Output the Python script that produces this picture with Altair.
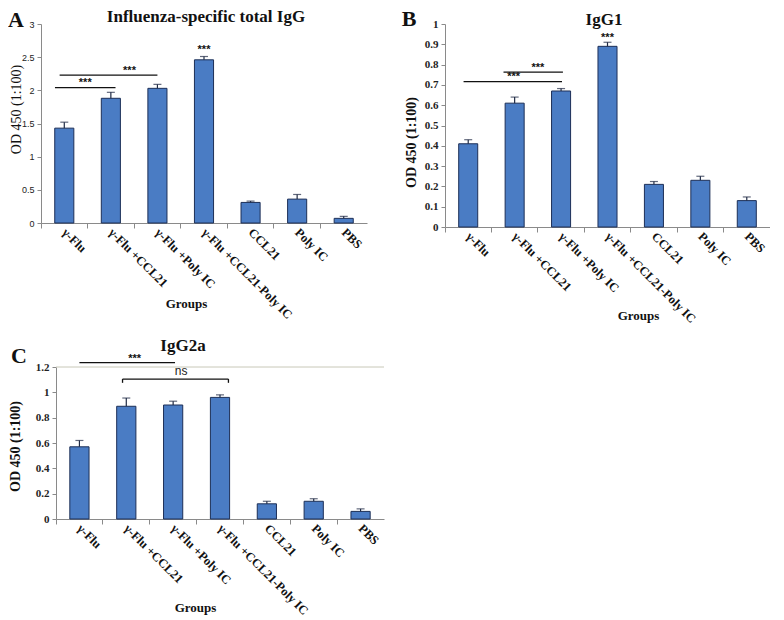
import altair as alt
import pandas as pd

groups = ["γ-Flu", "γ-Flu +CCL21", "γ-Flu +Poly IC", "γ-Flu +CCL21-Poly IC",
          "CCL21", "Poly IC", "PBS"]

igg_total = [1.43, 1.88, 2.03, 2.46, 0.31, 0.36, 0.07]
igg_total_err = [0.09, 0.09, 0.06, 0.05, 0.02, 0.07, 0.03]
igg1 = [0.41, 0.61, 0.67, 0.89, 0.21, 0.23, 0.13]
igg1_err = [0.02, 0.03, 0.012, 0.02, 0.014, 0.02, 0.018]
igg2a = [0.57, 0.89, 0.90, 0.96, 0.12, 0.14, 0.06]
igg2a_err = [0.05, 0.065, 0.03, 0.02, 0.02, 0.02, 0.02]

# significance segments: x start, x end (group index units), y start, y end
sig_a = [(-0.2, 1.1, 2.04, 2.04), (-0.1, 2.0, 2.23, 2.23)]
stars_a = [(0.45, 2.06, "***"), (1.4, 2.25, "***"), (3.0, 2.57, "***")]
sig_b = [(-0.1, 2.02, 0.716, 0.716), (0.76, 2.04, 0.763, 0.763)]
stars_b = [(0.98, 0.722, "***"), (1.5, 0.770, "***"), (3.0, 0.918, "***")]
sig_c = [(0.0, 2.04, 1.235, 1.235), (0.92, 3.18, 1.105, 1.105),
         (0.92, 0.92, 1.105, 1.075), (3.18, 3.18, 1.105, 1.075)]
stars_c = [(1.18, 1.24, "***")]
ns_c = [(2.17, 1.137, "ns")]

BAR_FILL = "#4a7cc4"
BAR_STROKE = "#1d2f57"
SERIF = "Liberation Serif"
SANS = "Liberation Sans"


def label_mark(text, x, y, size):
    return alt.Chart(pd.DataFrame({"t": [text]})).mark_text(
        font=SERIF, fontSize=size, fontWeight="bold", color="#111111",
        align="center", baseline="alphabetic").encode(
        x=alt.value(x), y=alt.value(y), text="t:N")


def panel(values, errs, segs, stars, ymax, ystep, w, h, title, title_x,
          title_y, letter, letter_x, letter_y, ytitle_x, ytitle_y, ytitle_bold,
          ylabel_font, ylabel_size, ylabel_bold, xtitle_x, xtitle_y,
          x_off=0, ns=None, topline=False):
    df = pd.DataFrame({"group": groups, "value": values, "err": errs})
    df["top"] = df["value"] + df["err"]
    ticks = [round(i * ystep, 3) for i in range(int(round(ymax / ystep)) + 1)]
    yscale = alt.Scale(domain=[0, ymax], nice=False, zero=True)
    yaxis = alt.Axis(values=ticks, format="~g", grid=False, offset=-x_off,
                     labelFont=ylabel_font, labelFontSize=ylabel_size,
                     labelFontWeight="bold" if ylabel_bold else "normal",
                     labelColor="#222222", labelPadding=3,
                     tickSize=4, tickColor="#8a8a8a", domainColor="#8a8a8a",
                     title="OD 450 (1:100)", titleFont=SERIF, titleFontSize=14,
                     titleFontWeight="bold" if ytitle_bold else "normal",
                     titleColor="#111111", titleAngle=-90,
                     titleX=ytitle_x, titleY=ytitle_y,
                     titleAlign="center", titleBaseline="middle")
    full_w = w + x_off
    xscale = alt.Scale(domain=groups, paddingInner=0, paddingOuter=0,
                       range=[x_off, full_w])
    xaxis = alt.Axis(bandPosition=0, labelOffset=0, labelAngle=45,
                     labelAlign="left", labelBaseline="middle", labelPadding=2,
                     labelFont=SERIF, labelFontSize=12.5, labelFontWeight="bold",
                     labelColor="#111111", labelLimit=300, labelOverlap=False,
                     tickSize=5, tickColor="#8a8a8a", domainColor="#8a8a8a",
                     title="Groups", titleFont=SERIF, titleFontSize=13,
                     titleFontWeight="bold", titleColor="#111111",
                     titleX=xtitle_x, titleY=xtitle_y,
                     titleAlign="center", titleBaseline="middle")
    base = alt.Chart(df)
    bars = base.mark_bar(fill=BAR_FILL, stroke=BAR_STROKE, strokeWidth=1,
                         width=alt.RelativeBandSize(0.41)).encode(
        x=alt.X("group:N", sort=groups, scale=xscale, axis=xaxis),
        y=alt.Y("value:Q", scale=yscale, axis=yaxis),
    )
    errbar = base.mark_rule(color="#1f2a44", strokeWidth=1.2).encode(
        x=alt.X("group:N", sort=groups, scale=xscale, axis=xaxis),
        y=alt.Y("value:Q", scale=yscale, axis=yaxis), y2="top:Q",
    )
    cap = base.mark_tick(color="#1f2a44", thickness=1.2, size=8,
                         orient="horizontal").encode(
        x=alt.X("group:N", sort=groups, scale=xscale, axis=xaxis),
        y=alt.Y("top:Q", scale=yscale, axis=yaxis),
    )
    layers = [bars, errbar, cap]
    if topline:
        tl = alt.Chart(pd.DataFrame({"y": [ymax]})).mark_rule(
            color="#c8c8b8", strokeWidth=1).encode(
            y=alt.Y("y:Q", scale=yscale, axis=yaxis),
            x=alt.value(x_off), x2=alt.value(full_w))
        layers.insert(0, tl)

    xlin = alt.Scale(domain=[-0.5, 6.5], nice=False, zero=False,
                     range=[x_off, full_w])
    seg_df = pd.DataFrame(segs, columns=["x1", "x2", "y1", "y2"])
    lines = alt.Chart(seg_df).mark_rule(color="#111111", strokeWidth=1.3,
                                        clip=False).encode(
        x=alt.X("x1:Q", scale=xlin, axis=None), x2="x2:Q",
        y=alt.Y("y1:Q", scale=yscale, axis=yaxis), y2="y2:Q",
    )
    star_df = pd.DataFrame(stars, columns=["x", "y", "t"])
    star_txt = alt.Chart(star_df).mark_text(font=SANS, fontSize=11,
                                            fontWeight="bold", color="#111111",
                                            baseline="alphabetic").encode(
        x=alt.X("x:Q", scale=xlin, axis=None),
        y=alt.Y("y:Q", scale=yscale, axis=yaxis), text="t:N",
    )
    ann = [lines, star_txt]
    if ns:
        ns_df = pd.DataFrame(ns, columns=["x", "y", "t"])
        ann.append(alt.Chart(ns_df).mark_text(font=SANS, fontSize=12,
                                              color="#222222",
                                              baseline="alphabetic").encode(
            x=alt.X("x:Q", scale=xlin, axis=None),
            y=alt.Y("y:Q", scale=yscale, axis=yaxis), text="t:N"))
    ann.append(label_mark(letter, letter_x, letter_y, 22))
    ann.append(label_mark(title, title_x, title_y, 17))
    main = alt.layer(*layers)
    annl = alt.layer(*ann)
    ch = alt.layer(main, annl).resolve_scale(x="independent").properties(
        width=full_w, height=h)
    return ch


chart_a = panel(igg_total, igg_total_err, sig_a, stars_a, 3.0, 0.5, 326, 199,
                "Influenza-specific total IgG", 165, -2, "A", -25, 3,
                -25, 85, False, SANS, 9, False, 145, 80)
chart_b = panel(igg1, igg1_err, sig_b, stars_b, 1.0, 0.1, 325, 203,
                "IgG1", 159, 1, "B", -36, 2,
                -34, 118, True, SERIF, 11, True, 193, 88)
chart_c = panel(igg2a, igg2a_err, sig_c, stars_c, 1.2, 0.2, 328, 152,
                "IgG2a", 142, -16, "C", -22, -4,
                -41, 79, True, SERIF, 11, True, 154, 88,
                x_off=15, ns=ns_c, topline=True)

chart = alt.concat(chart_a, chart_b, chart_c, columns=2,
                   spacing={"row": 140, "column": 61}, bounds="flush").properties(
    padding=0,
    background="white"
).configure_view(stroke=None)

chart.save("out.html", embed_options={"renderer": "svg", "actions": False})
